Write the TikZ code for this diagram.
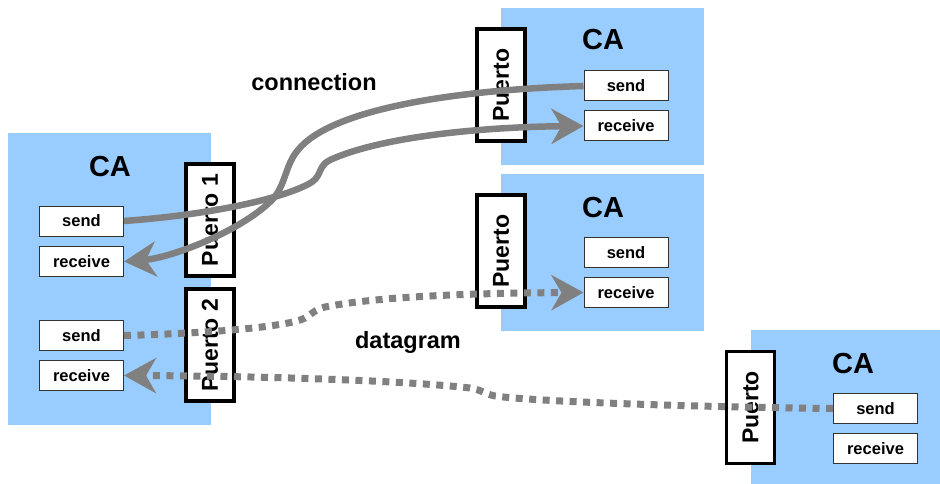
\documentclass[tikz,border=0pt]{standalone}
\usepackage{fontspec}
\setmainfont{Liberation Sans}
\usetikzlibrary{arrows.meta}
\definecolor{cabg}{HTML}{99CCFF}
\definecolor{linkgray}{HTML}{808080}
\definecolor{slotedge}{HTML}{333333}
\tikzset{
  agent/.style={fill=cabg, draw=none, inner sep=0pt, minimum width=#1},
  agent/.default=203pt,
  calabel/.style={inner sep=0pt, font=\fontsize{29}{32}\selectfont\bfseries},
  slot/.style={draw=slotedge, line width=1pt, fill=white, inner sep=0pt,
    minimum width=84pt, minimum height=30pt, font=\fontsize{16.5}{19}\selectfont\bfseries},
  portbox/.style={draw=black, line width=3.5pt, fill=white, inner sep=0pt,
    minimum width=48pt, minimum height=112pt},
  porttext/.style={rotate=90, inner sep=0pt, font=\fontsize{23}{26}\selectfont\bfseries},
  bigtip/.style={-{Stealth[length=32pt,width=35pt,inset=10pt]}},
  stream/.style={draw=linkgray, line width=6.5pt, bigtip},
  dgram/.style={draw=linkgray, line width=7pt, dash pattern=on 7pt off 6.5pt, bigtip},
  caption/.style={inner sep=0pt, font=\fontsize{23.5}{27}\selectfont\bfseries}
}
\begin{document}
\begin{tikzpicture}[x=1pt,y=-1pt]
\useasboundingbox (0,0) rectangle (940,484);

% application areas
\node[agent, minimum height=292pt] (caL) at (109.5,279) {};
\node[agent, minimum height=157pt] (caT) at (602.5,86.5) {};
\node[agent, minimum height=157pt] (caM) at (602.5,252.5) {};
\node[agent=189pt, minimum height=154pt] (caB) at (845.5,407) {};

\node[calabel] (tL) at (110,167) {CA};
\node[calabel] (tT) at (603,40) {CA};
\node[calabel] (tM) at (603,208) {CA};
\node[calabel] (tB) at (853,364) {CA};

% send / receive slots
\node[slot] (ls1) at (81.5,221) {send};
\node[slot] (lr1) at (81.5,261.5) {receive};
\node[slot] (ls2) at (81.5,335.5) {send};
\node[slot] (lr2) at (81.5,375.5) {receive};
\node[slot] (ts) at (626,86) {send};
\node[slot] (tr) at (626,126) {receive};
\node[slot] (ms) at (626,252.5) {send};
\node[slot] (mr) at (626,292.5) {receive};
\node[slot] (bs) at (875.5,408.5) {send};
\node[slot] (br) at (875.5,448.5) {receive};

% ports
\node[portbox] (p1) at (210,220) {};
\node[porttext] at (p1) {Puerto 1};
\node[portbox] (p2) at (210,345) {};
\node[porttext] at (p2) {Puerto 2};
\node[portbox] (pT) at (501,85) {};
\node[porttext] at (pT) {Puerto};
\node[portbox] (pM) at (501,251) {};
\node[porttext] at (pM) {Puerto};
\node[portbox] (pB) at (750.5,407.5) {};
\node[porttext] at (pB) {Puerto};

% connection (stream) links
\draw[stream] (ls1.east) .. controls (220,214) and (290,196) .. (312,182)
  .. controls (322,175) and (318,166) .. (330,160)
  .. controls (380,137) and (480,127) .. (tr.west);
\draw[stream] (ts.west) .. controls (450,90) and (330,110) .. (298,150)
  .. controls (285,165) and (286,185) .. (272,200)
  .. controls (240,232) and (170,258) .. (lr1.east);

% datagram links
\draw[dgram] (ls2.east) .. controls (220,333) and (290,326) .. (305,318)
  .. controls (312,314) and (314,310) .. (325,307)
  .. controls (380,296) and (480,293) .. (mr.west);
\draw[dgram] (bs.west) .. controls (700,407) and (540,402) .. (495,396)
  .. controls (485,394) and (482,390) .. (470,388)
  .. controls (400,380) and (250,376) .. (lr2.east);

\node[caption] (cap1) at (314,82) {connection};
\node[caption] (cap2) at (408,342) {datagram};
\end{tikzpicture}
\end{document}
